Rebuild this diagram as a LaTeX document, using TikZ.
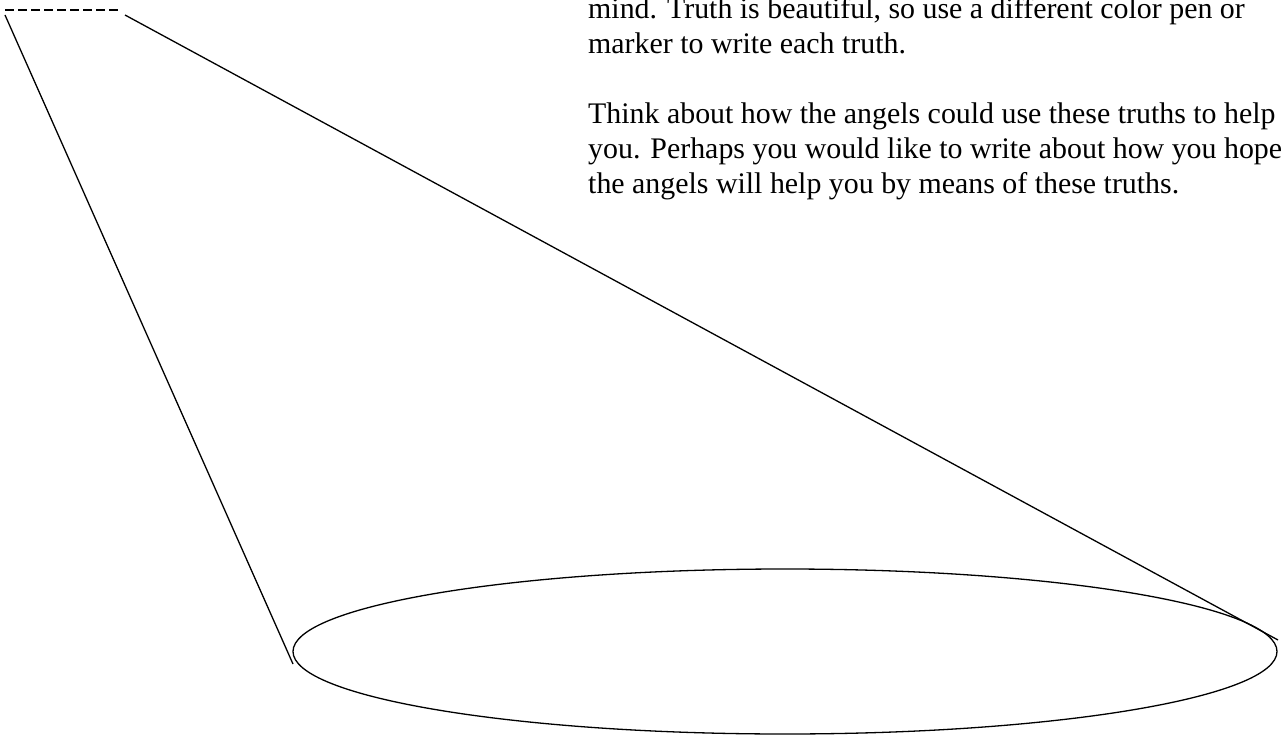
\documentclass[tikz,border=0pt]{standalone}
\usepackage{fontspec}
\setmainfont{Liberation Serif}
\usetikzlibrary{calc}
\definecolor{bmInk}{HTML}{000000}
\tikzset{
  beam/.style={line width=1.3bp, draw=bmInk},
  rim/.style={beam, dash pattern=on 9bp off 4bp},
  pool/.style={beam},
  note/.style={font=\fontsize{30}{35}\selectfont, text=bmInk, align=left,
               inner sep=0pt, anchor=base west},
}
\begin{document}
\begin{tikzpicture}[x=1bp, y=-1bp]
  \useasboundingbox (0,0) rectangle (1284,736);
  % lamp opening and light cone
  \coordinate (lampL) at (5,10);
  \coordinate (lampR) at (122,10);
  \coordinate (coneL) at (5,15);
  \coordinate (coneR) at (125,15);
  \coordinate (poolC) at (785,651.5);
  \coordinate (poolL) at (293,664);
  \coordinate (poolR) at (1278,640);
  \draw[rim] (lampL) -- (lampR);
  \draw[beam] (coneL) -- (poolL);
  \draw[beam] (coneR) -- (poolR);
  \draw[pool] (poolC) ellipse [x radius=492, y radius=82.5];
  % instructions (base anchor sits on the last line)
  \node[note] (truths) at (588,193)
    {mind. Truth is beautiful, so use a different color pen or\\
     marker to write each truth.\\[35bp]
     Think about how the angels could use these truths to help\\
     you. Perhaps you would like to write about how you hope\\
     the angels will help you by means of these truths.};
\end{tikzpicture}
\end{document}
